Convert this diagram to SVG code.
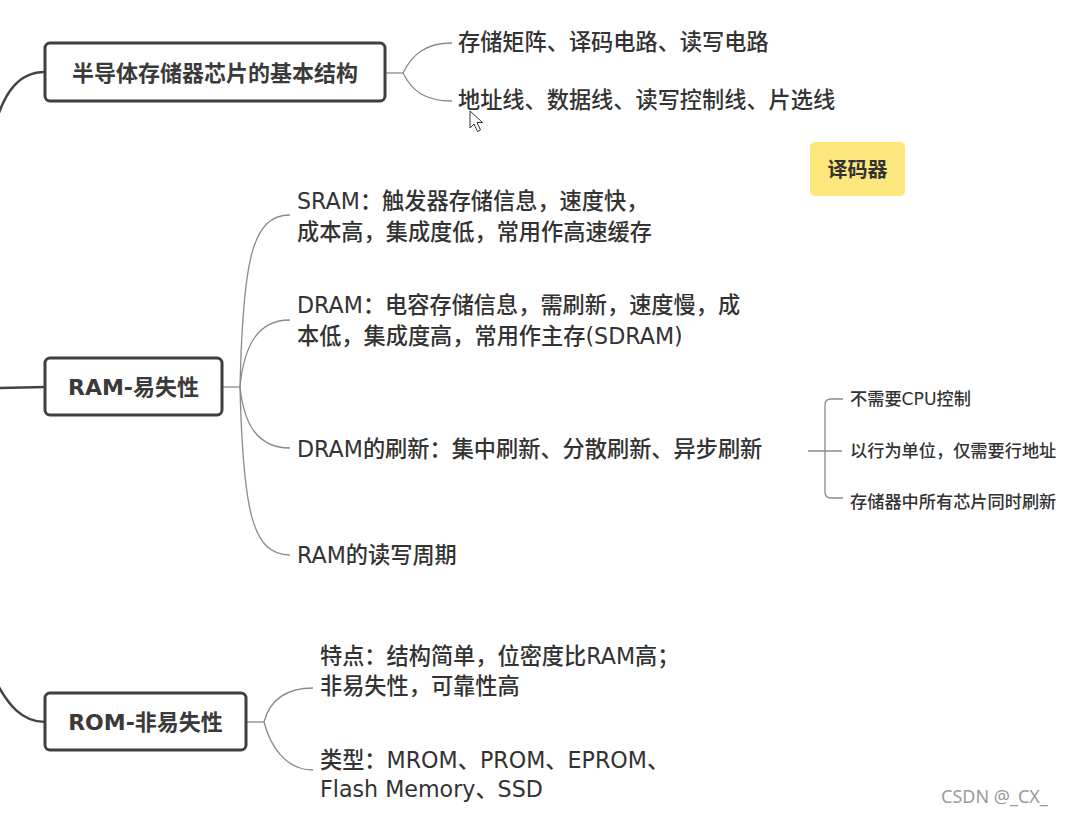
<svg xmlns="http://www.w3.org/2000/svg" width="1067" height="817" viewBox="0 0 1067 817">
<style>
.box{fill:#fff;stroke:#3f3f3f;stroke-width:3}
.t{font-family:"DejaVu Sans","Noto Sans CJK SC",sans-serif;fill:#333}
.title{font-size:22px;font-weight:600;text-anchor:middle;fill:#3a3a3a}
.leaf{font-size:22.2px;font-weight:500}
.small{font-size:17.2px;font-weight:500}
.main{fill:none;stroke:#444;stroke-width:2.5}
.br{fill:none;stroke:#8a8a8a;stroke-width:1.3}
</style>
<rect width="1067" height="817" fill="#fff"/>
<g id="connectors">
<path class="main" d="M-5 125 C5 90 20 72 45 72"/>
<path class="main" d="M0 388 L45 387"/>
<path class="main" d="M-5 680 C8 705 22 722 45 722"/>
<path class="br" d="M385 73 L403 73"/>
<path class="br" d="M403 73 C412 55 425 43 452 43"/>
<path class="br" d="M403 73 C412 91 425 101 452 101"/>
<path class="br" d="M222 387 L240 387"/>
<path class="br" d="M240 387 C243 260 252 215 290 215"/>
<path class="br" d="M240 387 C244 345 258 320 290 320"/>
<path class="br" d="M240 387 C244 425 258 448 290 448"/>
<path class="br" d="M240 387 C243 510 252 555 290 555"/>
<path class="br" d="M246 722 L264 722"/>
<path class="br" d="M264 722 C270 700 285 688 313 688"/>
<path class="br" d="M264 722 C270 745 285 770 313 770"/>
<path class="br" d="M808 451 L842 451"/>
<path class="br" d="M843 399 L831 399 Q825 399 825 405 L825 492 Q825 498 831 498 L843 498"/>
</g>
<g id="node-struct">
<rect class="box" x="45" y="43" width="340" height="58" rx="5"/>
<text class="t title" x="215" y="81">半导体存储器芯片的基本结构</text>
</g>
<g id="node-struct-1"><text class="t leaf" x="458" y="50">存储矩阵、译码电路、读写电路</text></g>
<g id="node-struct-2"><text class="t leaf" x="458" y="108">地址线、数据线、读写控制线、片选线</text></g>
<g id="node-decoder">
<rect x="810" y="142" width="95" height="54" rx="5" fill="#fbe77c"/>
<text class="t" x="857.5" y="177" font-size="20" font-weight="700" text-anchor="middle" fill="#444">译码器</text>
</g>
<g id="node-ram">
<rect class="box" x="45" y="358" width="177" height="57" rx="5"/>
<text class="t title" x="133.5" y="395">RAM-易失性</text>
</g>
<g id="node-sram"><text class="t leaf" x="297" y="209">SRAM：触发器存储信息，速度快，</text><text class="t leaf" x="297" y="240">成本高，集成度低，常用作高速缓存</text></g>
<g id="node-dram"><text class="t leaf" x="297" y="313">DRAM：电容存储信息，需刷新，速度慢，成</text><text class="t leaf" x="297" y="344">本低，集成度高，常用作主存(SDRAM)</text></g>
<g id="node-refresh"><text class="t leaf" x="297" y="457">DRAM的刷新：集中刷新、分散刷新、异步刷新</text></g>
<g id="node-r1"><text class="t small" x="850" y="405">不需要CPU控制</text></g>
<g id="node-r2"><text class="t small" x="850" y="457">以行为单位，仅需要行地址</text></g>
<g id="node-r3"><text class="t small" x="850" y="508">存储器中所有芯片同时刷新</text></g>
<g id="node-cycle"><text class="t leaf" x="297" y="563">RAM的读写周期</text></g>
<g id="node-rom">
<rect class="box" x="45" y="693" width="201" height="57" rx="5"/>
<text class="t title" x="145.5" y="730">ROM-非易失性</text>
</g>
<g id="node-feature"><text class="t leaf" x="320" y="664">特点：结构简单，位密度比RAM高；</text><text class="t leaf" x="320" y="694">非易失性，可靠性高</text></g>
<g id="node-type"><text class="t leaf" x="320" y="768">类型：MROM、PROM、EPROM、</text><text class="t leaf" x="320" y="797">Flash Memory、SSD</text></g>
<path d="M470 111 L470 128 L474 124 L477.5 131.5 L480.5 130 L477 122.5 L482.5 122.5 Z" fill="#fff" stroke="#333" stroke-width="1"/>
<text x="941" y="803" font-family="'Noto Sans','DejaVu Sans',sans-serif" font-size="18" fill="#9a9a9a">CSDN @_CX_</text>
</svg>
